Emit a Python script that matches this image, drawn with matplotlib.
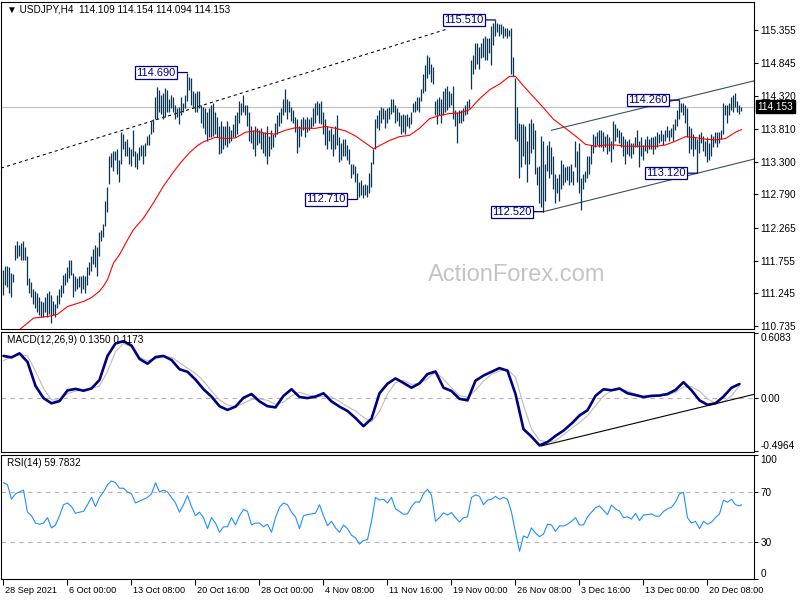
import numpy as np
import matplotlib
matplotlib.use("Agg")
import matplotlib.pyplot as plt
from matplotlib.transforms import blended_transform_factory

plt.rcParams['font.family'] = ['Liberation Sans', 'DejaVu Sans']
plt.rcParams['axes.linewidth'] = 0.75

# ---------------- data ----------------
symbol = "USDJPY,H4"
ohlc_last = [114.109, 114.154, 114.094, 114.153]

highs = [
    111.61, 111.68, 111.67, 111.65, 111.57, 111.55, 112.00, 112.06, 112.00, 112.03,
    112.06, 111.97, 111.83, 111.48, 111.42, 111.31, 111.28, 111.25, 111.19, 111.13,
    111.11, 111.19, 111.25, 111.28, 111.22, 111.13, 111.08, 111.22, 111.31, 111.37,
    111.54, 111.57, 111.65, 111.77, 111.77, 111.57, 111.51, 111.48, 111.51, 111.51,
    111.54, 111.51, 111.65, 111.74, 111.83, 111.94, 112.00, 111.97, 112.20, 112.23,
    112.32, 112.69, 112.90, 113.39, 113.44, 113.47, 113.47, 113.50, 113.33, 113.76,
    113.73, 113.62, 113.65, 113.53, 113.50, 113.79, 113.47, 113.44, 113.53, 113.56,
    113.56, 113.59, 113.70, 113.73, 113.93, 113.96, 114.31, 114.47, 114.42, 114.34,
    114.37, 114.45, 114.42, 114.28, 114.34, 114.31, 114.19, 114.14, 114.16, 114.31,
    114.22, 114.34, 114.69, 114.62, 114.60, 114.40, 114.37, 114.40, 114.40, 114.19,
    114.16, 114.14, 114.08, 114.14, 114.19, 114.22, 114.08, 113.99, 113.85, 113.94,
    113.85, 113.85, 113.94, 113.85, 113.79, 113.88, 114.02, 114.08, 114.25, 114.22,
    114.34, 114.19, 114.19, 114.08, 113.85, 113.79, 113.85, 113.82, 113.79, 113.82,
    113.76, 113.76, 113.85, 113.70, 113.79, 113.73, 113.91, 114.02, 114.08, 114.14,
    114.28, 114.43, 114.28, 114.25, 114.16, 114.11, 113.99, 113.96, 113.85, 113.96,
    113.99, 113.96, 113.99, 113.96, 113.99, 114.14, 114.22, 114.25, 114.22, 114.25,
    114.08, 113.96, 113.85, 113.79, 113.82, 113.73, 113.85, 114.02, 113.68, 113.59,
    113.65, 113.65, 113.56, 113.50, 113.27, 113.27, 113.24, 113.13, 112.98, 113.01,
    112.93, 112.95, 112.93, 113.13, 113.30, 113.50, 113.96, 114.02, 114.11, 114.16,
    114.14, 114.11, 114.14, 114.16, 114.28, 114.28, 114.19, 114.14, 114.08, 114.02,
    114.05, 114.02, 114.05, 113.99, 114.08, 114.22, 114.25, 114.31, 114.31, 114.43,
    114.66, 114.80, 114.97, 114.94, 114.83, 114.77, 114.25, 114.28, 114.31, 114.28,
    114.40, 114.45, 114.48, 114.40, 114.37, 114.48, 114.11, 114.08, 114.11, 114.11,
    114.14, 114.19, 114.25, 114.28, 114.89, 114.97, 115.15, 115.15, 115.09, 115.15,
    115.23, 115.26, 115.23, 115.23, 115.41, 115.46, 115.51, 115.46, 115.44, 115.44,
    115.41, 115.38, 115.38, 115.35, 115.38, 114.94, 114.60, 114.16, 113.91, 113.88,
    113.88, 113.85, 113.62, 113.91, 113.96, 113.91, 113.79, 113.21, 113.24, 113.70,
    113.62, 113.27, 113.56, 113.62, 113.53, 113.39, 113.10, 113.04, 113.10, 113.33,
    113.27, 113.21, 113.24, 113.24, 113.27, 113.16, 113.62, 113.47, 113.59, 113.04,
    113.10, 113.16, 113.39, 113.39, 113.56, 113.73, 113.70, 113.76, 113.79, 113.79,
    113.76, 113.70, 113.73, 113.68, 113.62, 113.94, 113.88, 113.82, 113.79, 113.76,
    113.70, 113.65, 113.62, 113.65, 113.59, 113.59, 113.68, 113.79, 113.62, 113.68,
    113.56, 113.65, 113.70, 113.65, 113.68, 113.68, 113.70, 113.76, 113.73, 113.79,
    113.73, 113.79, 113.85, 113.79, 113.82, 113.88, 113.96, 114.11, 114.26, 114.22,
    114.22, 114.19, 114.14, 113.85, 113.82, 113.73, 113.68, 113.65, 113.73, 113.76,
    113.70, 113.62, 113.68, 113.59, 113.73, 113.70, 113.76, 113.76, 113.76, 113.79,
    114.22, 114.19, 114.19, 114.22, 114.31, 114.34, 114.37, 114.25, 114.19, 114.154,
]

lows = [
    111.22, 111.37, 111.34, 111.25, 111.19, 111.42, 111.77, 111.80, 111.83, 111.77,
    111.77, 111.77, 111.37, 111.25, 111.19, 111.08, 111.02, 110.96, 110.91, 110.88,
    110.88, 110.96, 110.88, 110.93, 110.79, 110.91, 110.88, 111.02, 111.08, 111.19,
    111.25, 111.37, 111.42, 111.48, 111.54, 111.19, 111.28, 111.31, 111.34, 111.25,
    111.31, 111.25, 111.37, 111.54, 111.60, 111.71, 111.65, 111.51, 111.83, 112.06,
    112.12, 112.29, 112.52, 112.95, 113.21, 113.16, 113.33, 113.10, 112.98, 113.27,
    113.50, 113.39, 113.39, 113.27, 113.24, 113.39, 113.21, 113.18, 113.33, 113.39,
    113.27, 113.39, 113.56, 113.56, 113.73, 113.76, 113.96, 113.96, 114.08, 114.05,
    113.96, 113.99, 114.08, 114.08, 114.14, 114.08, 113.96, 113.99, 113.88, 114.02,
    114.08, 114.14, 114.25, 114.42, 114.19, 114.14, 114.08, 114.08, 114.14, 113.91,
    113.82, 113.73, 113.62, 113.68, 113.68, 113.70, 113.73, 113.68, 113.42, 113.44,
    113.50, 113.56, 113.53, 113.59, 113.62, 113.68, 113.68, 113.73, 113.91, 114.02,
    114.08, 114.02, 113.85, 113.62, 113.59, 113.50, 113.39, 113.56, 113.59, 113.50,
    113.44, 113.39, 113.27, 113.39, 113.50, 113.53, 113.68, 113.73, 113.85, 113.91,
    114.02, 114.08, 113.96, 114.08, 113.94, 113.91, 113.76, 113.44, 113.53, 113.70,
    113.79, 113.68, 113.76, 113.79, 113.82, 113.85, 113.91, 114.02, 113.91, 113.88,
    113.73, 113.56, 113.50, 113.62, 113.50, 113.39, 113.50, 113.56, 113.30, 113.33,
    113.39, 113.39, 113.33, 113.27, 113.04, 113.10, 112.98, 112.71, 112.75, 112.78,
    112.73, 112.78, 112.75, 112.81, 112.90, 113.27, 113.50, 113.82, 113.79, 113.91,
    113.96, 113.82, 113.91, 113.96, 114.05, 114.08, 113.91, 113.94, 113.85, 113.73,
    113.76, 113.73, 113.85, 113.82, 113.88, 114.08, 114.08, 114.11, 114.08, 114.25,
    114.37, 114.40, 114.60, 114.66, 114.54, 114.51, 114.02, 113.88, 114.02, 113.91,
    114.02, 114.08, 114.11, 114.16, 114.19, 113.96, 113.85, 113.59, 113.91, 113.91,
    113.94, 114.02, 114.05, 114.14, 114.43, 114.66, 114.74, 114.83, 114.74, 114.92,
    114.94, 114.89, 114.89, 115.00, 114.80, 115.12, 115.26, 115.32, 115.26, 115.29,
    115.23, 115.26, 115.23, 115.26, 114.66, 114.63, 113.65, 113.62, 113.04, 113.21,
    113.39, 113.27, 112.98, 113.27, 113.44, 113.50, 113.10, 112.93, 112.66, 112.60,
    112.52, 112.69, 113.16, 113.04, 113.10, 112.87, 112.66, 112.81, 112.69, 112.87,
    112.93, 112.98, 113.01, 112.93, 112.98, 112.93, 113.21, 112.98, 112.81, 112.55,
    112.87, 112.98, 113.04, 113.10, 113.27, 113.44, 113.53, 113.56, 113.53, 113.53,
    113.47, 113.53, 113.42, 113.47, 113.30, 113.50, 113.62, 113.68, 113.59, 113.53,
    113.39, 113.27, 113.42, 113.39, 113.36, 113.42, 113.53, 113.53, 113.21, 113.39,
    113.33, 113.47, 113.44, 113.50, 113.50, 113.42, 113.50, 113.53, 113.59, 113.62,
    113.56, 113.62, 113.68, 113.62, 113.68, 113.62, 113.79, 113.85, 113.96, 114.08,
    114.02, 113.91, 113.68, 113.44, 113.50, 113.39, 113.50, 113.12, 113.44, 113.59,
    113.47, 113.39, 113.30, 113.33, 113.39, 113.53, 113.59, 113.53, 113.59, 113.65,
    113.73, 114.02, 113.91, 114.02, 114.11, 114.08, 114.16, 114.08, 114.05, 114.094,
]

# moving average (red), read at selected bars
ma_bars = [5, 8, 15, 23, 27, 32, 40, 44, 48, 50, 52, 55, 58, 62, 65, 70, 75, 80, 85, 89,
           93, 97, 100, 106, 111, 116, 121, 126, 131, 136, 141, 146, 151, 156, 161, 166,
           171, 176, 181, 185, 188, 193, 198, 203, 208, 213, 218, 223, 228, 233, 238, 243,
           248, 253, 256, 260, 265, 270, 275, 281, 286, 291, 296, 301, 306, 311, 316, 321,
           326, 331, 336, 341, 346, 351, 356, 361, 366, 369]
ma_vals = [110.55, 110.68, 110.86, 110.89, 110.92, 111.04, 111.12, 111.18, 111.28, 111.36,
           111.46, 111.72, 111.85, 112.08, 112.24, 112.42, 112.66, 112.92, 113.14, 113.30,
           113.44, 113.55, 113.61, 113.68, 113.66, 113.67, 113.76, 113.78, 113.74, 113.73,
           113.79, 113.83, 113.82, 113.82, 113.85, 113.82, 113.78, 113.70, 113.59, 113.50,
           113.55, 113.63, 113.69, 113.71, 113.82, 113.97, 114.02, 114.05, 114.06, 114.11,
           114.28, 114.42, 114.51, 114.63, 114.63, 114.48, 114.31, 114.14, 113.96, 113.82,
           113.70, 113.57, 113.54, 113.56, 113.56, 113.54, 113.54, 113.54, 113.54, 113.56,
           113.62, 113.69, 113.675, 113.65, 113.64, 113.66, 113.76, 113.80]

# MACD(12,26,9) read every 4 bars
macd_main = [0.398, 0.384, 0.422, 0.342, 0.117, 0.003, -0.046, -0.025, 0.075, 0.089,
             0.072, 0.093, 0.173, 0.398, 0.515, 0.536, 0.495, 0.370, 0.325, 0.387,
             0.398, 0.360, 0.273, 0.249,
             0.176, 0.086, 0.017, -0.073, -0.108, -0.077, 0.006, 0.041, -0.028, -0.073,
             -0.084, 0.024, 0.086, 0.013, 0.003, 0.017, 0.048, -0.028, -0.077, -0.118,
             -0.184, -0.260, -0.190,
             0.048, 0.138, 0.187, 0.145, 0.100, 0.141, 0.228, 0.252, 0.100, 0.069,
             -0.004, -0.018, 0.166, 0.214, 0.249, 0.284, 0.259, 0.041, -0.288, -0.358,
             -0.440, -0.409, -0.351,
             -0.302, -0.236, -0.160, -0.111, 0.024, 0.086, 0.076, 0.093, 0.048, 0.031,
             0.013, 0.024, 0.027, 0.041, 0.079, 0.152, 0.076, -0.018, -0.060, -0.046,
             0.017, 0.100, 0.135]
macd_signal = [0.353, 0.391, 0.412, 0.398, 0.256, 0.093, -0.014, -0.014, 0.044, 0.069,
               0.079, 0.093, 0.117, 0.252, 0.439, 0.515, 0.481, 0.384, 0.353, 0.370,
               0.391, 0.384, 0.335, 0.283,
               0.235, 0.162, 0.069, -0.014, -0.063, -0.077, -0.046, -0.011, -0.004, -0.018,
               -0.056, -0.035, 0.024, 0.058, 0.034, 0.017, 0.017, 0.014, -0.028, -0.077,
               -0.118, -0.177, -0.219,
               -0.122, 0.041, 0.148, 0.169, 0.131, 0.141, 0.183, 0.249, 0.180, 0.100,
               0.027, 0.010, 0.076, 0.162, 0.225, 0.256, 0.273, 0.197, -0.063, -0.288,
               -0.392, -0.409, -0.396,
               -0.340, -0.281, -0.226, -0.163, -0.067, 0.021, 0.072, 0.086, 0.069, 0.041,
               0.017, 0.017, 0.024, 0.031, 0.058, 0.107, 0.110, 0.069, -0.004, -0.046,
               -0.032, 0.024, 0.117]
macd_last = (0.1350, 0.1173)

# RSI(14) read every 2 bars (+ last bar)
rsi_vals = [77.6, 76.1, 64.3, 68.7, 70.2, 71.7, 53.9, 51.0, 45.1, 44.2,
            45.1, 49.5, 41.2, 43.6, 51.0, 59.9, 61.3, 58.4, 53.0, 53.9,
            54.5, 59.9, 65.8, 58.4, 65.8, 70.2, 76.1, 79.1, 77.6, 73.2,
            73.2, 70.2, 68.7, 61.3, 62.8, 64.3, 65.8, 68.7, 77.6, 70.2,
            71.7, 70.2, 65.8, 61.3, 53.9, 59.9, 67.3,
            58.4, 51.0, 53.9, 49.5, 40.6, 49.5, 45.1, 37.7, 42.1, 42.1,
            49.5, 43.6, 51.0, 56.0, 54.5, 43.6, 45.1, 45.1, 42.1, 44.2,
            37.7, 49.5, 57.8, 61.3, 59.9, 53.9, 50.1, 40.6, 51.0, 51.9,
            52.5, 53.0, 59.9, 51.0, 43.0, 46.5, 41.2, 37.7, 43.6, 40.6,
            35.3, 33.2, 28.2, 31.1, 31.7, 46.5,
            65.8, 63.7, 64.3, 61.3, 65.8, 56.6, 54.5, 52.2, 52.5, 58.4,
            62.2, 61.9, 68.7, 72.3, 67.6, 46.5, 49.5, 53.3, 51.6, 53.6,
            49.5, 45.9, 49.5, 50.1, 65.8, 67.8, 66.7, 59.9, 63.7, 64.3,
            66.7, 64.3, 65.8, 64.3, 53.9, 37.7, 22.3, 34.7, 33.2, 41.2,
            37.1, 34.1, 36.2, 44.2, 43.6, 38.3, 43.0,
            42.7, 44.2, 46.5, 49.5, 43.6, 43.6, 50.1, 53.9, 57.5, 59.0,
            55.4, 51.9, 59.6, 56.6, 54.8, 49.5, 50.1, 48.3, 53.0, 47.1,
            51.6, 51.9, 52.5, 50.7, 50.7, 54.5, 56.6, 57.8, 61.9, 68.7,
            69.9, 49.5, 45.1, 46.5, 40.6, 46.5, 44.2, 45.9, 49.5, 52.5,
            63.7, 61.9, 64.3, 59.9, 59.0, 59.7832]

# labelled highs / lows
note_texts = ["114.690", "112.710", "115.510", "112.520", "114.260", "113.120"]
note_bars = [92, 177, 246, 270, 338, 347]
note_prices = [114.690, 112.710, 115.510, 112.520, 114.260, 113.120]

# trend lines (bar, price)
dash_line = ([-1.25, 221.0], [113.20, 115.36])
chan_low = ([270, 375.25], [112.52, 113.34])
chan_high = ([274, 375.25], [113.79, 114.56])
macd_tline = ([269, 375.25], [-0.445, 0.038])

price_ticks = [115.355, 114.845, 114.320, 113.810, 113.300, 112.790, 112.265, 111.755, 111.245, 110.735]
time_labels = ["28 Sep 2021", "6 Oct 00:00", "13 Oct 08:00", "20 Oct 16:00", "28 Oct 00:00",
               "4 Nov 08:00", "11 Nov 16:00", "19 Nov 00:00", "26 Nov 08:00", "3 Dec 16:00",
               "13 Dec 00:00", "20 Dec 08:00"]
time_label_bars = [0, 32, 64, 96, 128, 160, 192, 224, 256, 288, 320, 352]

# ---------------- figure ----------------
W, H = 800, 600
fig = plt.figure(figsize=(8, 6), dpi=100)
fig.patch.set_facecolor('white')


def rect(top, bottom, left=1, right=754):
    return [left / W, (H - bottom) / H, (right - left) / W, (bottom - top) / H]


ax = fig.add_axes(rect(2, 329))
axm = fig.add_axes(rect(332, 452))
axr = fig.add_axes(rect(455, 579))

n = len(highs)
bars = np.arange(n)
xlim = (-1.25, 375.25)
bar_color = '#0a3550'
txt_font = 7.2

# ---- price panel ----
ax.set_xlim(*xlim)
ax.set_ylim(110.69, 115.79)
ax.axhline(ohlc_last[3], color='#c0c0c0', lw=0.8, zorder=1)
ax.vlines(bars, lows, highs, color=bar_color, lw=0.9, zorder=3)
ax.plot(ma_bars, ma_vals, color='#ff0000', lw=0.8, zorder=4)
ax.plot(dash_line[0], dash_line[1], color='black', lw=0.75, ls=(0, (3, 3)), zorder=2)
ax.plot(chan_low[0], chan_low[1], color='#37525e', lw=0.8, zorder=2)
ax.plot(chan_high[0], chan_high[1], color='#37525e', lw=0.8, zorder=2)

for t, b, p in zip(note_texts, note_bars, note_prices):
    ax.annotate(t, xy=(b, p), xytext=(-12, 0), textcoords='offset pixels',
                ha='right', va='center', fontsize=8, color='#000080',
                bbox=dict(boxstyle='square,pad=0.1', fc='white', ec='#000080', lw=0.9),
                arrowprops=dict(arrowstyle='-', color='#000080', lw=0.9,
                                shrinkA=0, shrinkB=0), zorder=6)

ax.text(0.685, 0.165, "ActionForex.com", transform=ax.transAxes, ha='center',
        va='center', fontsize=17, color='#c4c4c4', zorder=0)

hdr = "\u25BC " + symbol + "  " + " ".join(f"{v:.3f}" for v in ohlc_last)
ax.text(6 / 753, 0.976, hdr, transform=ax.transAxes, ha='left', va='center',
        fontsize=txt_font, color='black', zorder=7)

ax.yaxis.tick_right()
ax.set_yticks(price_ticks)
ax.set_yticklabels([f"{v:.3f}" for v in price_ticks])
ax.tick_params(axis='y', direction='out', length=3, width=0.75, labelsize=txt_font, pad=1.5)
ax.set_xticks([])
tr = blended_transform_factory(ax.transAxes, ax.transData)
ax.text(1.005, ohlc_last[3], f"{ohlc_last[3]:.3f}", transform=tr, ha='left', va='center',
        fontsize=txt_font, color='white', clip_on=False, zorder=8,
        bbox=dict(boxstyle='square,pad=0.15', fc='black', ec='black'))

# ---- MACD panel ----
macd_bars = np.arange(0, 369, 4)
axm.set_xlim(*xlim)
axm.set_ylim(-0.502, 0.622)
axm.axhline(0, color='#b4b4b4', lw=0.8, ls=(0, (4, 4)), zorder=1)
axm.plot(macd_bars, macd_signal, color='#bdbdbd', lw=0.8, zorder=2)
axm.plot(macd_bars, macd_main, color='#000080', lw=1.9, zorder=3,
         solid_joinstyle='round', solid_capstyle='round')
axm.plot(macd_tline[0], macd_tline[1], color='black', lw=0.8, zorder=4)
axm.text(6 / 753, 0.933, f"MACD(12,26,9) {macd_last[0]:.4f} {macd_last[1]:.4f}",
         transform=axm.transAxes, ha='left', va='center', fontsize=txt_font, color='black')
axm.yaxis.tick_right()
axm.set_yticks([0.6083, 0.0, -0.4964])
axm.set_yticklabels(["0.6083", "0.00", "-0.4964"])
axm.tick_params(axis='y', direction='out', length=3, width=0.75, labelsize=txt_font, pad=1.5)
lbls = axm.get_yticklabels()
lbls[0].set_va('top')
lbls[2].set_va('bottom')
axm.set_xticks([])

# ---- RSI panel ----
rsi_bars = list(range(0, 369, 2)) + [369]
axr.set_xlim(*xlim)
axr.set_ylim(0, 100)
axr.axhline(70, color='#b4b4b4', lw=0.8, ls=(0, (4, 4)), zorder=1)
axr.axhline(30, color='#b4b4b4', lw=0.8, ls=(0, (4, 4)), zorder=1)
axr.plot(rsi_bars, rsi_vals, color='#1e90ff', lw=0.8, zorder=3)
axr.text(6 / 753, 0.935, f"RSI(14) {rsi_vals[-1]:.4f}", transform=axr.transAxes,
         ha='left', va='center', fontsize=txt_font, color='black')
axr.yaxis.tick_right()
axr.set_yticks([100, 70, 30, 0])
axr.set_yticklabels(["100", "70", "30", "0"])
axr.tick_params(axis='y', direction='out', length=3, width=0.75, labelsize=txt_font, pad=1.5)
rl = axr.get_yticklabels()
rl[0].set_va('top')
rl[3].set_va('bottom')
axr.set_xticks(time_label_bars)
axr.set_xticklabels([])
axr.tick_params(axis='x', direction='out', length=4, width=0.75)
trx = blended_transform_factory(axr.transData, axr.transAxes)
for lab, b in zip(time_labels, time_label_bars):
    axr.text(b + 0.6, -0.09, lab, transform=trx, ha='left', va='center',
             fontsize=6.6, color='black', clip_on=False)

for a in (ax, axm, axr):
    for s in a.spines.values():
        s.set_color('black')
        s.set_linewidth(0.8)

fig.savefig("out.png", dpi=100)
